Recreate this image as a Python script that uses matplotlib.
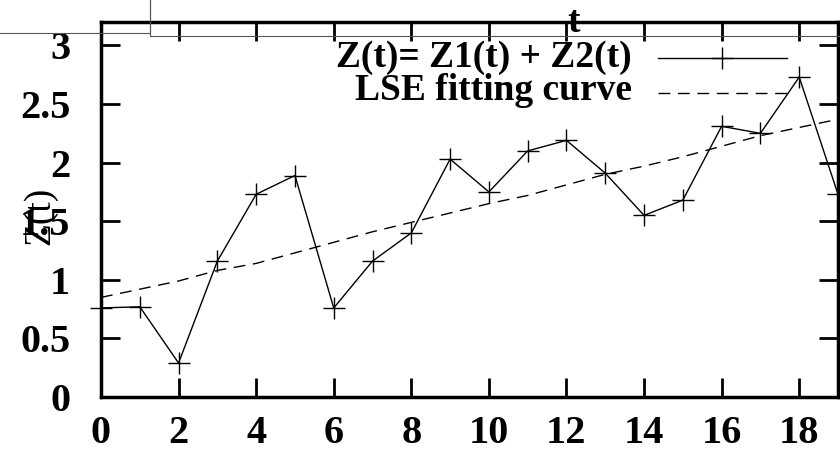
import matplotlib
matplotlib.use("Agg")
import matplotlib.pyplot as plt
from matplotlib.lines import Line2D

# data
t = [0, 1, 2, 3, 4, 5, 6, 7, 8, 9, 10, 11, 12, 13, 14, 15, 16, 17, 18, 19]
z = [0.76, 0.77, 0.29, 1.16, 1.73, 1.89, 0.76, 1.16, 1.40, 2.03,
     1.75, 2.10, 2.19, 1.91, 1.55, 1.68, 2.31, 2.25, 2.73, 1.73]
fit = [0.85, 0.92, 0.99, 1.08, 1.14, 1.23, 1.32, 1.41, 1.49, 1.57,
       1.65, 1.72, 1.81, 1.90, 1.97, 2.05, 2.14, 2.23, 2.30, 2.37]
xticks = [0, 2, 4, 6, 8, 10, 12, 14, 16, 18]
yticks = [0, 0.5, 1, 1.5, 2, 2.5, 3]
ylabels = ["0", "0.5", "1", "1.5", "2", "2.5", "3"]

plt.rcParams['font.family'] = ['Liberation Serif', 'DejaVu Serif']
fs = 29
fs_key = 27

fig = plt.figure(figsize=(8.4, 4.51), dpi=100)
ax = fig.add_axes([101/840, 1-397/451, 737/840, 375/451])

ax.plot(t, z, color='black', lw=1.0, marker='+', ms=16, mew=1.0, clip_on=False, zorder=3)
ax.plot(t, fit, color='black', lw=1.0, ls=(0, (8.5, 5.5)), zorder=2)

ax.set_xlim(0, 19)
ax.set_ylim(0, 3.2)
ax.set_xticks(xticks)
ax.set_xticklabels([str(v) for v in xticks], fontsize=fs, fontweight='bold')
ax.set_yticks(yticks)
ax.set_yticklabels(ylabels, fontsize=fs, fontweight='bold')
ax.tick_params(direction='in', length=14, width=2, top=True, right=True)
ax.tick_params(axis='y', pad=22)
ax.tick_params(axis='x', pad=13)
for s in ax.spines.values():
    s.set_linewidth(2.5)

# gnuplot-like key: text right aligned, sample on the right
def px(x, y):
    return (x - 101) / 737, (397 - y) / 375

tx, ty1 = px(632, 67)
_, ty2 = px(632, 100)
ax.text(tx, ty1, "Z(t)= Z1(t) + Z2(t)", transform=ax.transAxes,
        ha='right', va='baseline', fontsize=fs_key, fontweight='bold')
ax.text(tx, ty2, "LSE fitting curve", transform=ax.transAxes,
        ha='right', va='baseline', fontsize=fs_key, fontweight='bold')
x0, ly1 = px(658, 58)
x1, ly2 = px(787, 93)
xm, _ = px(722, 58)
ax.add_line(Line2D([x0, x1], [ly1, ly1], transform=ax.transAxes, color='black', lw=1.0))
ax.add_line(Line2D([xm], [ly1], transform=ax.transAxes, color='black',
                   marker='+', ms=16, mew=1.0, ls='none'))
ax.add_line(Line2D([x0, x1], [ly2, ly2], transform=ax.transAxes,
                   color='black', lw=1.0, ls=(0, (8.5, 5.5))))

fig.text(574/840, 1-32/451, "t", ha='center', va='baseline', fontsize=fs_key, fontweight='bold')
fig.text(40/840, 1-216/451, "Z(t)", rotation=90, ha='center', va='center', fontsize=fs_key)

# stray frame lines at the top
fig.add_artist(Line2D([0, 150/840, 150/840], [1-33/451, 1-33/451, 1],
                      transform=fig.transFigure, color='#555555', lw=0.8, zorder=10))
fig.add_artist(Line2D([150/840, 150/840, 1], [1, 1-36/451, 1-36/451],
                      transform=fig.transFigure, color='#555555', lw=0.8, zorder=10))

fig.savefig("out.png", dpi=100)
